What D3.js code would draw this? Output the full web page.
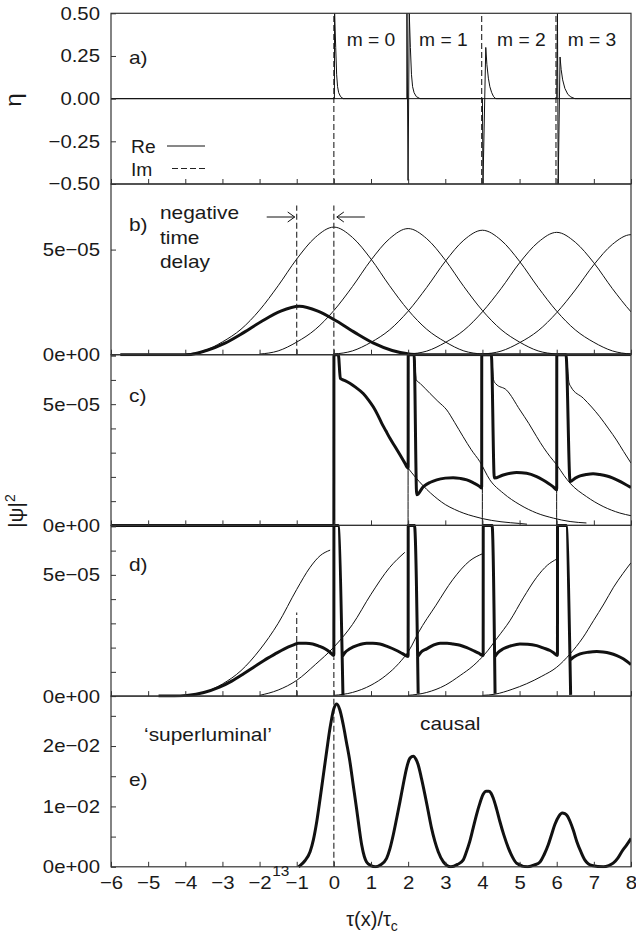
<!DOCTYPE html>
<html>
<head>
<meta charset="utf-8">
<title>Pulse components and transmitted intensity</title>
<script src="https://cdnjs.cloudflare.com/ajax/libs/d3/7.8.5/d3.min.js"></script>
<style>
  body { margin: 0; background: #fff; }
  svg text { font-family: "Liberation Sans", Arial, Helvetica, sans-serif; fill: #1a1a1a; }
  .axis path { display: none; }
  .axis line { stroke: #333; stroke-width: 1; }
  .axis text { font-size: 18.5px; }
  .frame { fill: none; stroke: #333; stroke-width: 1.2; }
  .thin { fill: none; stroke: #111; stroke-width: 1; }
  .thick { fill: none; stroke: #111; stroke-width: 3; stroke-linejoin: round; }
  .dash { fill: none; stroke: #222; stroke-width: 1.1; stroke-dasharray: 6,3; }
  .note { font-size: 19px; }
  .mlab { font-size: 17.5px; }
</style>
</head>
<body>
<svg id="fig" width="636" height="934"></svg>
<script>
"use strict"
// time axis, in units of tau_c
var tTicks = [-6, -5, -4, -3, -2, -1, 0, 1, 2, 3, 4, 5, 6, 7, 8];

// a) eta, real part (solid) and imaginary part (dashed spikes)
var etaTicks = [-0.5, -0.25, 0, 0.25, 0.5];
var etaTickLabels = ["\u22120.50", "\u22120.25", "0.00", "0.25", "0.50"];
var imSpikes = [0, 3.98, 5.98];
var reEta = [
  [-6, 0], [0.015, 0], [0.02, 0.6], [0.05, 0.3], [0.075, 0.14], [0.1, 0.07], [0.13, 0.035], [0.18, 0.012], [0.25, 0],
  [1.965, 0], [1.968, 0.6], [1.998, -0.479], [2.03, 0.6], [2.06, 0.3], [2.09, 0.14], [2.12, 0.07], [2.16, 0.035], [2.22, 0.012], [2.32, 0],
  [4.0, 0], [4.015, -0.6], [4.09, 0.3], [4.12, 0.2], [4.16, 0.12], [4.2, 0.07], [4.25, 0.035], [4.3, 0.012], [4.36, 0],
  [6.0, 0], [6.02, 0.6], [6.04, -0.6], [6.09, 0.244], [6.12, 0.17], [6.16, 0.11], [6.22, 0.06], [6.3, 0.025], [6.38, 0.01], [6.49, 0],
  [8, 0]
];
var mLabels = ["m = 0", "m = 1", "m = 2", "m = 3"];
var mLabelAt = [1.0, 2.95, 5.05, 6.95];

// |psi|^2 in units of 1e-05 (b, c, d) and 1e-02 (e)
var bTicks = [0, 5];
var bTickLabels = ["0e+00", "5e\u221205"];
var psiTicks = [0, 1, 2, 3, 4, 5, 6, 7];
var psiTickLabels = ["0e+00", "", "", "", "", "5e\u221205", "", ""];
var eTicks = [0, 0.5, 1, 1.5, 2, 2.5];
var eTickLabels = ["0e+00", "", "1e\u221202", "", "2e\u221202", ""];

// b) free pulses, one per round trip, sampled at offsets from their centres
var pulseOffsets = [-4, -3.5, -3, -2.5, -2, -1.5, -1, -0.5, 0, 0.5, 1, 1.5, 2, 2.5, 3, 3.5, 4];
var pulseCenters = [0, 2, 4, 6, 8];
var pulse0 = [0.03, 0.18, 0.61, 1.21, 2.12, 3.28, 4.55, 5.58, 6.07, 5.58, 4.55, 3.28, 2.12, 1.21, 0.61, 0.18, 0.03];
var pulse1 = [0.03, 0.18, 0.60, 1.20, 2.10, 3.24, 4.50, 5.52, 6.00, 5.52, 4.50, 3.24, 2.10, 1.20, 0.60, 0.18, 0.03];
var pulse2 = [0.03, 0.18, 0.59, 1.18, 2.07, 3.20, 4.44, 5.45, 5.92, 5.45, 4.44, 3.20, 2.07, 1.18, 0.59, 0.18, 0.03];
var pulse3 = [0.03, 0.17, 0.58, 1.16, 2.04, 3.14, 4.37, 5.35, 5.82, 5.35, 4.37, 3.14, 2.04, 1.16, 0.58, 0.17, 0.03];
var pulse4 = [0.03, 0.17, 0.57, 1.14, 2.00, 3.08, 4.28, 5.25, 5.71, 5.25, 4.28, 3.08, 2.00, 1.14, 0.57, 0.17, 0.03];
var bThick = [
  [-5.75, 0], [-3.93, 0], [-3.43, 0.2], [-2.93, 0.55], [-2.43, 1.05], [-1.93, 1.6], [-1.43, 2.07], [-0.93, 2.3],
  [-0.43, 2.07], [0.07, 1.6], [0.57, 1.05], [1.07, 0.55], [1.57, 0.2], [2.07, 0.02], [2.3, 0], [8, 0]
];
var bDelay = [-1, 0];

// c) causal parts
var cThick = [
  [-6, 0], [0, 0], [0.002, 7.5], [0.12, 7.5], [0.175, 6.06], [0.3, 5.97], [0.43, 5.86], [0.6, 5.68], [0.79, 5.44],
  [0.93, 5.18], [1.06, 4.89], [1.18, 4.56], [1.29, 4.21], [1.4, 3.9], [1.51, 3.59], [1.65, 3.24], [1.78, 2.91],
  [1.9, 2.6], [2.0, 2.36],
  [2.002, 7.5], [2.16, 7.5], [2.23, 1.26], [2.41, 1.6], [2.6, 1.78], [2.77, 1.88], [3.0, 1.95], [3.21, 1.97],
  [3.4, 1.94], [3.58, 1.88], [3.75, 1.76], [3.93, 1.6], [3.98, 1.54],
  [3.982, 7.5], [4.24, 7.5], [4.32, 1.95], [4.56, 2.08], [4.75, 2.15], [4.92, 2.18], [5.19, 2.15], [5.46, 2.01],
  [5.62, 1.88], [5.77, 1.74], [5.9, 1.6], [6.0, 1.47],
  [6.002, 7.5], [6.25, 7.5], [6.36, 1.81], [6.5, 1.95], [6.63, 2.04], [6.8, 2.1], [6.98, 2.13], [7.16, 2.1],
  [7.35, 2.04], [7.5, 1.96], [7.66, 1.85], [7.82, 1.72], [8.0, 1.56]
];
var cThin0 = [
  [2.0, 2.36], [2.2, 1.98], [2.4, 1.64], [2.6, 1.34], [2.8, 1.08], [3.0, 0.86], [3.25, 0.66], [3.5, 0.5],
  [3.75, 0.38], [4.0, 0.28], [4.5, 0.15], [5.0, 0.08], [5.2, 0.05]
];
var cThin1 = [
  [1.998, 0], [2.0, 7.5], [2.16, 7.5], [2.22, 6.0], [2.32, 5.86], [2.59, 5.44], [2.8, 5.12], [3.04, 4.76],
  [3.25, 4.25], [3.48, 3.66], [3.7, 3.12], [3.93, 2.63], [4.2, 1.88], [4.56, 1.33], [5.01, 0.85], [5.46, 0.51],
  [5.91, 0.3], [6.36, 0.16], [6.8, 0.1]
];
var cThin2 = [
  [3.998, 0], [4.0, 7.5], [4.24, 7.5], [4.3, 6.0], [4.36, 5.84], [4.65, 5.58], [5.01, 4.76], [5.25, 4.2],
  [5.46, 3.66], [5.65, 3.2], [5.82, 2.84], [6.0, 2.5], [6.2, 2.05], [6.36, 1.74], [6.8, 1.19], [7.25, 0.78],
  [7.7, 0.51], [8.0, 0.4]
];
var cThin3 = [
  [5.998, 0], [6.0, 7.5], [6.25, 7.5], [6.33, 5.9], [6.38, 5.72], [6.72, 5.24], [7.16, 4.48], [7.4, 3.98],
  [7.61, 3.52], [7.8, 3.05], [8.0, 2.57]
];

// d) full transmitted parts, null breaks the line where a branch restarts
var dThick = [
  [-4.72, 0], [-4.3, 0.0], [-3.96, 0.03], [-3.5, 0.15], [-3.08, 0.37], [-2.75, 0.62], [-2.43, 0.92], [-2.15, 1.2],
  [-1.88, 1.47], [-1.6, 1.72], [-1.33, 1.95], [-1.1, 2.1], [-0.95, 2.18], [-0.75, 2.18], [-0.57, 2.15], [-0.4, 2.06],
  [-0.24, 1.95], [-0.1, 1.8], [0.0, 1.67], [0.002, 7.5], [0.11, 7.5], [0.245, 0.03], null,
  [0.215, 1.6], [0.3, 1.8], [0.43, 1.95], [0.65, 2.1], [0.88, 2.18], [1.05, 2.18], [1.24, 2.15], [1.45, 2.04],
  [1.69, 1.88], [1.85, 1.75], [2.0, 1.63], [2.002, 7.5], [2.17, 7.5], [2.27, 0.1], null,
  [2.248, 1.6], [2.35, 1.82], [2.5, 1.95], [2.68, 2.1], [2.86, 2.18], [3.05, 2.18], [3.21, 2.15], [3.4, 2.1],
  [3.58, 2.0], [3.75, 1.88], [3.9, 1.77], [4.02, 1.67], [4.022, 7.5], [4.26, 7.5], [4.34, 0.1], null,
  [4.323, 1.6], [4.42, 1.8], [4.56, 1.95], [4.78, 2.08], [5.01, 2.15], [5.22, 2.14], [5.46, 2.08], [5.65, 1.98],
  [5.82, 1.88], [5.93, 1.77], [6.02, 1.67], [6.022, 7.5], [6.25, 7.5], [6.375, 0.05], null,
  [6.35, 1.47], [6.45, 1.6], [6.63, 1.74], [6.85, 1.81], [7.08, 1.84], [7.25, 1.82], [7.43, 1.77], [7.62, 1.67],
  [7.79, 1.54], [8.0, 1.3]
];
var dThin0 = [[-4.0, 0.02], [-3.5, 0.15], [-3.0, 0.5], [-2.5, 1.05], [-2.0, 1.9], [-1.5, 3.0], [-1.0, 4.4], [-0.64, 5.31], [-0.37, 5.79], [-0.1, 6.02]];
var dThin1 = [[-2.0, 0.03], [-1.5, 0.25], [-1.0, 0.65], [-0.5, 1.3], [0.0, 2.02], [0.5, 2.95], [1.0, 4.2], [1.5, 5.3], [1.91, 5.93]];
var dThin2 = [[0.0, 0.03], [0.5, 0.15], [1.0, 0.45], [1.4, 0.85], [1.75, 1.35], [2.05, 1.95], [2.27, 2.6], [2.75, 3.75], [3.2, 4.8], [3.66, 5.58], [4.0, 5.87]];
var dThin3 = [[2.0, 0.03], [2.5, 0.15], [3.0, 0.45], [3.4, 0.85], [3.75, 1.25], [4.07, 1.74], [4.4, 2.4], [4.74, 3.11], [5.1, 4.05], [5.46, 4.9], [5.75, 5.4], [6.0, 5.65]];
var dThin4 = [[4.0, 0.03], [4.34, 0.08], [4.8, 0.28], [5.19, 0.51], [5.6, 0.82], [6.0, 1.19], [6.36, 1.74], [6.7, 2.4], [6.99, 3.11], [7.27, 3.8], [7.53, 4.49], [7.78, 5.05], [8.0, 5.5]];
var dDash = [[-1, 3.45], [0, 1.6]];

// e) total intensity
var eThick = [
  [-0.95, 0], [-0.91, 0.02], [-0.78, 0.1], [-0.64, 0.25], [-0.55, 0.45], [-0.46, 0.75], [-0.37, 1.13], [-0.28, 1.53],
  [-0.19, 1.93], [-0.1, 2.31], [0.0, 2.62], [0.08, 2.695], [0.16, 2.6], [0.25, 2.36], [0.34, 2.06], [0.43, 1.75],
  [0.52, 1.36], [0.61, 0.97], [0.68, 0.65], [0.75, 0.36], [0.82, 0.17], [0.88, 0.08], [1.0, 0.02], [1.12, 0.0],
  [1.25, 0.03], [1.42, 0.14], [1.51, 0.3], [1.6, 0.53], [1.69, 0.8], [1.78, 1.08], [1.87, 1.37], [1.96, 1.64],
  [2.05, 1.8], [2.14, 1.83], [2.21, 1.78], [2.27, 1.69], [2.36, 1.46], [2.45, 1.2], [2.54, 0.92], [2.63, 0.64],
  [2.72, 0.42], [2.81, 0.25], [2.95, 0.08], [3.15, 0.0],
  [3.33, 0.04], [3.48, 0.11], [3.57, 0.25], [3.66, 0.42], [3.75, 0.64], [3.84, 0.86], [3.93, 1.05], [4.02, 1.2],
  [4.1, 1.25], [4.17, 1.25], [4.23, 1.22], [4.29, 1.14], [4.38, 0.96], [4.47, 0.75], [4.58, 0.52], [4.7, 0.31],
  [4.81, 0.16], [4.92, 0.06], [5.22, 0.0],
  [5.4, 0.03], [5.55, 0.08], [5.66, 0.2], [5.77, 0.36], [5.86, 0.53], [5.95, 0.7], [6.06, 0.84], [6.15, 0.89],
  [6.22, 0.88], [6.29, 0.84], [6.36, 0.75], [6.45, 0.6], [6.54, 0.42], [6.65, 0.25], [6.76, 0.11], [6.95, 0.02],
  [7.26, 0.0], [7.4, 0.02], [7.52, 0.06], [7.64, 0.14], [7.75, 0.25], [7.88, 0.36], [8.0, 0.47]
];

var W = 636, H = 934;
var left = 111, right = 631, top0 = 13.3, panelH = 170.7;

var svg = d3.select('#fig');
svg.append('rect').attr('width', W).attr('height', H).attr('fill', '#fff');

var x = d3.scaleLinear().domain([-6, 8]).range([left, right]);

var panels = [
  { id: 'a', domain: [-0.5, 0.5], ticks: etaTicks, labels: etaTickLabels },
  { id: 'b', domain: [0, 8.12], ticks: bTicks, labels: bTickLabels },
  { id: 'c', domain: [0, 7.04], ticks: psiTicks, labels: psiTickLabels },
  { id: 'd', domain: [0, 7.04], ticks: psiTicks, labels: psiTickLabels },
  { id: 'e', domain: [0, 2.827], ticks: eTicks, labels: eTickLabels }
];

panels.forEach(function (p, i) {
  p.y0 = top0 + i * panelH;
  p.y1 = p.y0 + panelH;
  p.y = d3.scaleLinear().domain(p.domain).range([p.y1, p.y0]).clamp(true);
  svg.append('clipPath').attr('id', 'clip-' + p.id)
    .append('rect')
      .attr('x', left).attr('y', p.y0 - 1.5)
      .attr('width', right - left).attr('height', panelH + 3);
  p.g = svg.append('g').attr('clip-path', 'url(#clip-' + p.id + ')');
});

function path(p, data, cls, curve) {
  var gen = d3.line()
    .defined(function (d) { return d !== null; })
    .x(function (d) { return x(d[0]); })
    .y(function (d) { return p.y(d[1]); })
    .curve(curve || d3.curveMonotoneX);
  p.g.append('path').datum(data).attr('class', cls).attr('d', gen);
}

function vdash(p, t, v0, v1) {
  p.g.append('line').attr('class', 'dash')
    .attr('x1', x(t)).attr('x2', x(t))
    .attr('y1', p.y(v0)).attr('y2', p.y(v1));
}

var A = panels[0], B = panels[1], C = panels[2], D = panels[3], E = panels[4];

// --- a) ---
A.g.append('line').attr('class', 'thin')
  .attr('x1', x(-6)).attr('x2', x(8)).attr('y1', A.y(0)).attr('y2', A.y(0));
imSpikes.forEach(function (t) { vdash(A, t, -0.5, 0.5); });
path(A, reEta, 'thin', d3.curveLinear);

// --- b) ---
[pulse0, pulse1, pulse2, pulse3, pulse4].forEach(function (vals, m) {
  var pts = pulseOffsets.map(function (o, k) { return [pulseCenters[m] + o, vals[k]]; });
  path(B, pts, 'thin');
});
path(B, bThick, 'thick');
bDelay.forEach(function (t) { vdash(B, t, 0, 7.1); });

// --- c) ---
[cThin0, cThin1, cThin2, cThin3].forEach(function (d) { path(C, d, 'thin'); });
path(C, cThick, 'thick');

// --- d) ---
[dThin0, dThin1, dThin2, dThin3, dThin4].forEach(function (d) { path(D, d, 'thin'); });
dDash.forEach(function (d) { vdash(D, d[0], 0, d[1]); });
path(D, dThick, 'thick');

// --- e) ---
vdash(E, 0, 0, 2.827);
path(E, eThick, 'thick');

// frames and axes
panels.forEach(function (p, i) {
  svg.append('rect').attr('class', 'frame')
    .attr('x', left).attr('y', p.y0).attr('width', right - left).attr('height', panelH);

  svg.append('g').attr('class', 'axis')
    .attr('transform', 'translate(' + left + ',0)')
    .call(d3.axisLeft(p.y).tickValues(p.ticks).tickSize(-5).tickPadding(11)
      .tickFormat(function (d, k) { return p.labels[k]; }));

  var last = i === panels.length - 1;
  svg.append('g').attr('class', 'axis')
    .attr('transform', 'translate(0,' + p.y1 + ')')
    .call(d3.axisBottom(x).tickValues(tTicks).tickSize(-5).tickPadding(9)
      .tickFormat(last ? d3.format('d') : function () { return ''; }));
});

// panel letters
var letters = ['a)', 'b)', 'c)', 'd)', 'e)'];
var letterY = [64, 230.5, 402, 570.5, 786];
letters.forEach(function (s, i) {
  svg.append('text').attr('class', 'note').attr('x', 129).attr('y', letterY[i]).text(s);
});

// a) labels and legend
mLabels.forEach(function (s, i) {
  svg.append('text').attr('class', 'mlab').attr('text-anchor', 'middle')
    .attr('x', x(mLabelAt[i])).attr('y', 46).text(s);
});
svg.append('text').attr('class', 'mlab').attr('x', 131).attr('y', 153).text('Re');
svg.append('line').attr('class', 'thin').attr('x1', 167).attr('x2', 205).attr('y1', 146).attr('y2', 146);
svg.append('text').attr('class', 'mlab').attr('x', 131).attr('y', 175.5).text('Im');
svg.append('line').attr('class', 'dash').attr('x1', 172).attr('x2', 205).attr('y1', 168.5).attr('y2', 168.5);

// b) delay annotation
['negative', 'time', 'delay'].forEach(function (s, i) {
  svg.append('text').attr('class', 'note').attr('x', 160).attr('y', 219 + i * 24.5).text(s);
});
var ay = B.y(6.55);
function arrow(xFrom, xTo) {
  var dir = xTo > xFrom ? 1 : -1;
  svg.append('line').attr('class', 'thin').attr('x1', xFrom).attr('x2', xTo).attr('y1', ay).attr('y2', ay);
  svg.append('path').attr('class', 'thin')
    .attr('d', 'M' + (xTo - dir * 7) + ',' + (ay - 5) + 'L' + xTo + ',' + ay + 'L' + (xTo - dir * 7) + ',' + (ay + 5));
}
arrow(x(-1) - 30, x(-1) - 2);
arrow(x(0) + 31, x(0) + 3);

// e) labels
svg.append('text').attr('class', 'note').attr('x', 144).attr('y', 741).text('\u2018superluminal\u2019');
svg.append('text').attr('class', 'note').attr('x', 420).attr('y', 730).text('causal');
svg.append('text').attr('x', x(-1.2)).attr('y', 876).attr('text-anchor', 'end')
  .style('font-size', '14px').text('13');

// axis titles
svg.append('text').attr('transform', 'translate(21,100) rotate(-90)')
  .attr('text-anchor', 'middle').style('font-size', '22px').text('\u03b7');
var psi = svg.append('text').attr('transform', 'translate(23,511) rotate(-90)')
  .attr('text-anchor', 'middle').style('font-size', '21px');
psi.append('tspan').text('|\u03c8|');
psi.append('tspan').attr('dy', -8).style('font-size', '14px').text('2');

var xt = svg.append('text').attr('x', 372).attr('y', 926).attr('text-anchor', 'middle').style('font-size', '20px');
xt.append('tspan').text('\u03c4(x)/\u03c4');
xt.append('tspan').attr('dy', 5).style('font-size', '14px').text('c');

// the lettering of this figure runs a little wide: stretch single-run labels sideways
svg.selectAll('text').each(function () {
  if (this.childElementCount > 0) return;
  var w = this.getComputedTextLength();
  if (w > 0) d3.select(this).attr('textLength', w * 1.1).attr('lengthAdjust', 'spacingAndGlyphs');
});
</script>
</body>
</html>
